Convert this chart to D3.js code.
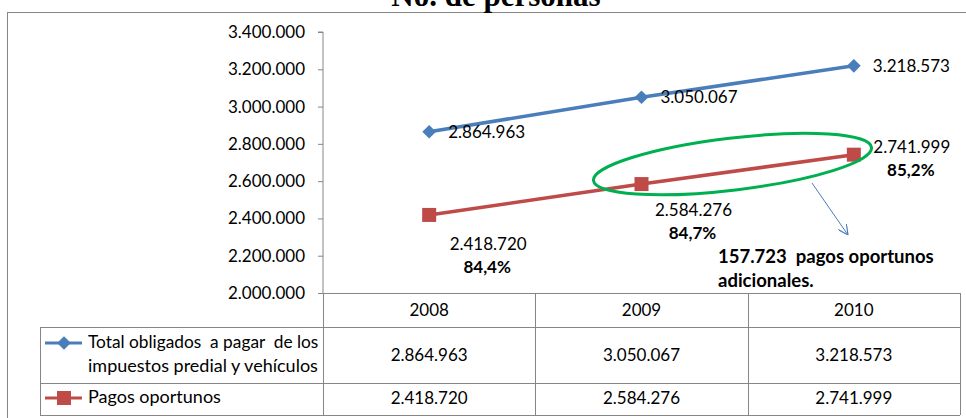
<!DOCTYPE html>
<html>
<head>
<meta charset="utf-8">
<script src="https://cdn.jsdelivr.net/npm/d3@7"></script>
<style>
  body { margin: 0; background: #fff; }
  text { font-family: Lato, "Open Sans", sans-serif; fill: #000; }
  .pre { white-space: pre; }
</style>
</head>
<body>
<div id="chart"></div>
<script>
var years = ["2008", "2009", "2010"];
var totalObligados = [2864963, 3050067, 3218573];
var pagosOportunos = [2418720, 2584276, 2741999];
var pctLabels = ["84,4%", "84,7%", "85,2%"];
var yTicks = [2000000, 2200000, 2400000, 2600000, 2800000, 3000000, 3200000, 3400000];
var serieNames = [["Total obligados  a pagar  de los", "impuestos predial y vehículos"], ["Pagos oportunos"]];
var title = "No. de personas";
var annotation = ["157.723  pagos oportunos", "adicionales."];

var W = 966, H = 418;
var plot = {left: 323, right: 960, top: 32, bottom: 293};
var blue = "#4A7EBB", red = "#BE4B48", gray = "#868686";
var fs = "17px";

var loc = d3.formatLocale({decimal: ",", thousands: ".", grouping: [3], currency: ["", ""]});
var fmt = loc.format(",d");

var svg = d3.select("#chart").append("svg")
    .attr("width", W)
    .attr("height", H);

// outer frame (runs off the right and bottom)
svg.append("rect")
    .attr("x", 7.5).attr("y", 12.5)
    .attr("width", 1000).attr("height", 500)
    .attr("fill", "none").attr("stroke", gray);

// title sits mostly above the page, as in the source
svg.append("text")
    .attr("x", 496).attr("y", 6)
    .attr("text-anchor", "middle")
    .style("font-family", "'Liberation Serif', serif")
    .style("font-weight", "bold")
    .style("font-size", "31px")
    .text(title);

var x = d3.scalePoint()
    .domain(years)
    .range([plot.left, plot.right])
    .padding(0.5);

var y = d3.scaleLinear()
    .domain([2000000, 3400000])
    .range([plot.bottom, plot.top]);

var yAxis = svg.append("g")
    .attr("transform", "translate(" + plot.left + ",0)")
    .call(d3.axisLeft(y).tickValues(yTicks).tickFormat(fmt).tickSize(5).tickPadding(13));
yAxis.selectAll("path, line").attr("stroke", gray);
yAxis.select(".domain").attr("d", "M-5," + y(3400000) + "H0V" + plot.bottom);
yAxis.selectAll("text").style("font-size", fs).style("font-family", "Lato");

// lines
var line = d3.line()
    .x(function(d, i) { return x(years[i]); })
    .y(function(d) { return y(d); });

svg.append("path").datum(totalObligados)
    .attr("fill", "none").attr("stroke", blue).attr("stroke-width", 3.5)
    .attr("d", line);
svg.append("path").datum(pagosOportunos)
    .attr("fill", "none").attr("stroke", red).attr("stroke-width", 3.5)
    .attr("d", line);

var diamond = d3.symbol().type(d3.symbolDiamond2).size(120);

svg.selectAll(".dia").data(totalObligados).enter().append("path")
    .attr("class", "dia")
    .attr("d", diamond)
    .attr("transform", function(d, i) { return "translate(" + x(years[i]) + "," + y(d) + ")"; })
    .attr("fill", blue);

svg.selectAll(".sq").data(pagosOportunos).enter().append("rect")
    .attr("class", "sq")
    .attr("x", function(d, i) { return x(years[i]) - 7; })
    .attr("y", function(d) { return y(d) - 7; })
    .attr("width", 14).attr("height", 14)
    .attr("fill", red);

// data labels
svg.selectAll(".lblT").data(totalObligados).enter().append("text")
    .attr("x", function(d, i) { return x(years[i]) + 19; })
    .attr("y", function(d) { return y(d) + 6; })
    .style("font-size", fs)
    .text(function(d) { return fmt(d); });

var redOff = [[59, 35, 58], [52, 32, 54], [58, -2, 19]];
svg.selectAll(".lblP").data(pagosOportunos).enter().append("text")
    .attr("x", function(d, i) { return x(years[i]) + redOff[i][0]; })
    .attr("y", function(d, i) { return y(d) + redOff[i][1]; })
    .attr("text-anchor", "middle")
    .style("font-size", fs)
    .text(function(d) { return fmt(d); });
svg.selectAll(".lblPct").data(pctLabels).enter().append("text")
    .attr("x", function(d, i) { return x(years[i]) + redOff[i][0] - 1; })
    .attr("y", function(d, i) { return y(pagosOportunos[i]) + redOff[i][1] + 23; })
    .attr("text-anchor", "middle")
    .style("font-size", fs)
    .style("font-weight", "bold")
    .text(function(d) { return d; });

// highlight ellipse + arrow
var ex = x(years[1]) + 91, ey = y(pagosOportunos[1]) - 20;
svg.append("ellipse")
    .attr("cx", ex).attr("cy", ey)
    .attr("rx", 140).attr("ry", 26)
    .attr("transform", "rotate(-6.8," + ex + "," + ey + ")")
    .attr("fill", "none").attr("stroke", "#00B050").attr("stroke-width", 3);

svg.append("defs").append("marker")
    .attr("id", "arr")
    .attr("viewBox", "0 0 10 10")
    .attr("refX", 10).attr("refY", 5)
    .attr("markerWidth", 10).attr("markerHeight", 10)
    .attr("markerUnits", "userSpaceOnUse")
    .attr("orient", "auto")
  .append("path")
    .attr("d", "M0,0L10,5L0,10")
    .attr("fill", "none").attr("stroke", blue).attr("stroke-width", 1.2);

svg.append("line")
    .attr("x1", 812).attr("y1", 183)
    .attr("x2", 848).attr("y2", 235)
    .attr("stroke", blue).attr("stroke-width", 1)
    .attr("marker-end", "url(#arr)");

svg.selectAll(".ann").data(annotation).enter().append("text")
    .attr("class", "pre")
    .attr("x", 718)
    .attr("y", function(d, i) { return 263 + i * 24; })
    .style("font-size", "18.5px")
    .style("font-weight", "bold")
    .text(function(d) { return d; });

// data table
var rows = [plot.bottom, 327, 383, 415];
var tbl = svg.append("g").attr("stroke", gray).attr("fill", "none");
tbl.append("line").attr("x1", plot.left).attr("x2", plot.right).attr("y1", rows[0] + 0.5).attr("y2", rows[0] + 0.5);
[1, 2, 3].forEach(function(r) {
  tbl.append("line").attr("x1", 40).attr("x2", plot.right).attr("y1", rows[r] + 0.5).attr("y2", rows[r] + 0.5);
});
tbl.append("line").attr("x1", 40.5).attr("x2", 40.5).attr("y1", rows[1]).attr("y2", rows[3]);
var step = x.step();
[0, 1, 2, 3].forEach(function(c) {
  var cx = Math.round(plot.left + c * step) + 0.5;
  tbl.append("line").attr("x1", cx).attr("x2", cx).attr("y1", rows[0]).attr("y2", rows[3]);
});

svg.selectAll(".hdr").data(years).enter().append("text")
    .attr("x", function(d) { return x(d); })
    .attr("y", 316)
    .attr("text-anchor", "middle")
    .style("font-size", fs)
    .text(function(d) { return d; });

svg.selectAll(".r1").data(totalObligados).enter().append("text")
    .attr("x", function(d, i) { return x(years[i]); })
    .attr("y", 361)
    .attr("text-anchor", "middle")
    .style("font-size", fs)
    .text(function(d) { return fmt(d); });

svg.selectAll(".r2").data(pagosOportunos).enter().append("text")
    .attr("x", function(d, i) { return x(years[i]); })
    .attr("y", 404)
    .attr("text-anchor", "middle")
    .style("font-size", fs)
    .text(function(d) { return fmt(d); });

// legend keys inside table
svg.append("line").attr("x1", 45).attr("x2", 82).attr("y1", 343).attr("y2", 343)
    .attr("stroke", blue).attr("stroke-width", 3);
svg.append("path").attr("d", diamond).attr("transform", "translate(64,343)").attr("fill", blue);
svg.append("line").attr("x1", 45).attr("x2", 82).attr("y1", 398).attr("y2", 398)
    .attr("stroke", red).attr("stroke-width", 3);
svg.append("rect").attr("x", 57).attr("y", 391).attr("width", 14).attr("height", 14).attr("fill", red);

serieNames[0].forEach(function(t, i) {
  svg.append("text").attr("class", "pre").attr("x", 88).attr("y", 348 + i * 24)
      .style("font-size", i === 0 ? "17.3px" : "18px").text(t);
});
svg.append("text").attr("x", 88).attr("y", 403)
    .style("font-size", "18px").text(serieNames[1][0]);
</script>
</body>
</html>
